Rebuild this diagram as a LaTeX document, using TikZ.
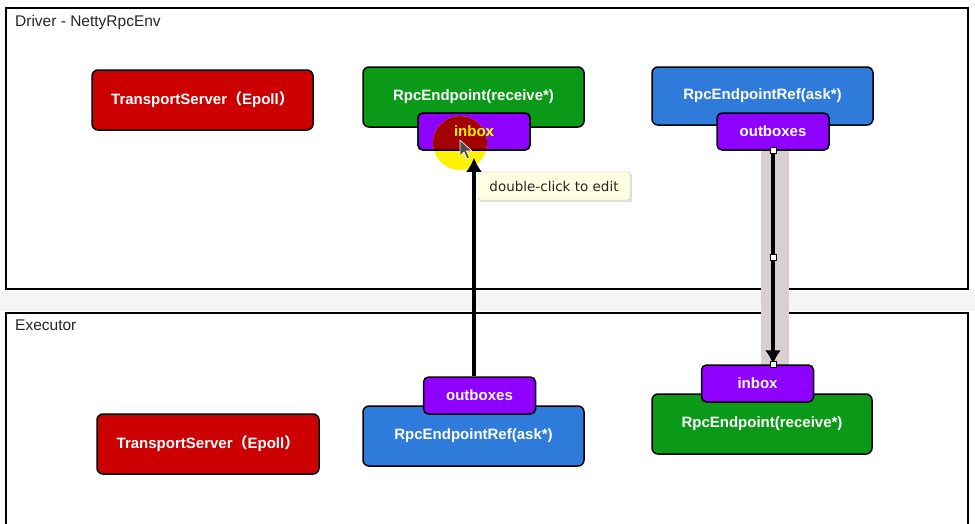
\documentclass[tikz,border=0pt]{standalone}
\usepackage{fontspec}
\setmainfont{Liberation Sans}
\newfontfamily\cjk{Noto Sans CJK SC}
\newfontfamily\tipfont{DejaVu Sans}
\usetikzlibrary{arrows.meta,calc}
\definecolor{tsred}{HTML}{CC0000}
\definecolor{epgreen}{HTML}{0A9A18}
\definecolor{refblue}{HTML}{2F7BDC}
\definecolor{boxpurple}{HTML}{8E00FF}
\definecolor{bandgray}{HTML}{D8D0D0}
\definecolor{tipyellow}{HTML}{FFFFE1}
\definecolor{hlred}{HTML}{A30000}
\tikzset{
  frame/.style={draw=black, line width=1.8pt},
  framelabel/.style={anchor=north west, inner sep=0pt, font=\fontsize{15.5}{17}\selectfont, text=black!85},
  bigbox/.style={draw=black, line width=1.5pt, rounded corners=6pt, text=white,
    font=\bfseries\fontsize{15}{17}\selectfont, inner sep=0pt},
  smallbox/.style={draw=black, line width=1.5pt, rounded corners=5pt, fill=boxpurple, text=white,
    font=\bfseries\fontsize{15}{17}\selectfont, minimum width=112pt, minimum height=37pt, inner sep=0pt},
  arr/.style={draw=black, line width=4pt, -{Latex[length=14pt,width=16pt]}},
  handle/.style={draw=black, fill=white, line width=0.6pt, minimum size=6pt, inner sep=0pt},
}
\begin{document}
\begin{tikzpicture}[x=1pt,y=-1pt]
\useasboundingbox (0,0) rectangle (975,523);
\fill[white] (0,0) rectangle (975,523);
\fill[black!4] (0,291) rectangle (975,311);
% frames
\draw[frame] (6,8) rectangle (968,289);
\node[framelabel] (driver) at (15,15) {Driver - NettyRpcEnv};
\draw[frame] (968,530) -- (968,313) -- (6,313) -- (6,530);
\node[framelabel] (executor) at (15,320) {Executor};
% selection band
\fill[bandgray] (761,150) rectangle (789,365);
% driver nodes
\node[bigbox, fill=tsred, minimum width=221pt, minimum height=60pt] (ts1) at (202.5,100) {TransportServer{\cjk （}Epoll{\cjk ）}};
\node[bigbox, fill=epgreen, minimum width=221pt, minimum height=60pt] (ep1) at (473.5,97) {RpcEndpoint(receive*)};
\node[smallbox, text=yellow] (ib1) at (474,131.5) {inbox};
\node[bigbox, fill=refblue, minimum width=221pt, minimum height=58pt] (ref1) at (762.5,96) {RpcEndpointRef(ask*)};
\node[smallbox] (ob1) at (773,131.5) {outboxes};
% executor nodes
\node[bigbox, fill=tsred, minimum width=222pt, minimum height=60pt] (ts2) at (208,444) {TransportServer{\cjk （}Epoll{\cjk ）}};
\node[bigbox, fill=refblue, minimum width=221pt, minimum height=60pt] (ref2) at (473.5,436) {RpcEndpointRef(ask*)};
\node[smallbox] (ob2) at (479.5,395.5) {outboxes};
\node[bigbox, fill=epgreen, minimum width=220pt, minimum height=60pt] (ep2) at (762,424) {RpcEndpoint(receive*)};
\node[smallbox] (ib2) at (757.5,383.5) {inbox};
% cursor highlight
\begin{scope}
\clip (460,143) circle (27pt);
\fill[yellow] (400,100) rectangle (520,200);
\fill[hlred] (ib1.south west) rectangle (ib1.north east);
\end{scope}
\node[smallbox, fill=none, text=yellow] at (ib1) {inbox};
% connectors
\draw[arr, shorten >=7pt] (ib1.south |- ob2.north) -- (ib1.south);
\draw[arr] (ob1.south) -- (ob1.south |- ib2.north);
\node[handle] (h1) at (ob1.south) {};
\node[handle] (h2) at ($(ob1.south)!0.5!(ob1.south |- ib2.north)$) {};
\node[handle] (h3) at (ob1.south |- ib2.north) {};
% mouse pointer
\draw[fill=gray!60!black, draw=white, line width=0.6pt] (460,140) -- (460,156) -- (464,152) -- (467,159) -- (469.5,158) -- (466.5,151) -- (472,151) -- cycle;
% tooltip
\fill[black!12] (480,174) rectangle (632,202);
\node[draw=black!25, fill=tipyellow, rounded corners=2pt, minimum width=152pt, minimum height=28pt,
  inner sep=0pt, font=\tipfont\fontsize{13.5}{15}\selectfont, text=black!85] (tip) at (554,186) {double-click to edit};
\end{tikzpicture}
\end{document}
